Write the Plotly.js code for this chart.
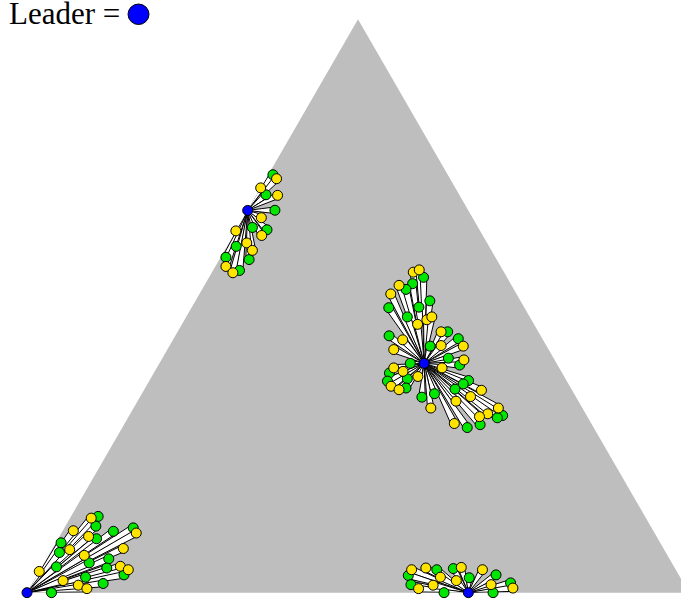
<!DOCTYPE html>
<html>
<head>
<meta charset="utf-8">
<script src="https://cdn.plot.ly/plotly-3.0.1.min.js"></script>
<style>
html, body { margin: 0; padding: 0; overflow: hidden; background: #fff; }
#chart { width: 700px; height: 602px; }
</style>
</head>
<body>
<div id="chart"></div>
<script>
// Ternary compositions in percent (a = top, b = bottom-left, c = bottom-right; b = 100 - a - c)
const leaderA = [66.67, 40.0, 0.0, 0.0];
const leaderC = [0.0, 40.0, 0.0, 66.67];

const cluster1A = [72.9, 72.2, 70.6, 69.4, 69.3, 66.7, 65.4, 63.7, 63.3, 62.3, 63.1, 60.4, 61.0, 59.7, 58.1, 58.5, 56.9, 55.8, 56.2];
const cluster1C = [0.7, 1.6, 0.0, 1.4, 3.2, 4.1, 2.7, 2.2, 4.6, 4.3, 0.0, 1.4, 2.7, 4.2, 4.5, 0.8, 1.6, 3.2, 4.0];
const cluster1Group = ['G','Y','Y','G','Y','G','Y','G','G','Y','Y','G','Y','Y','G','G','Y','Y','G'];

const cluster2A = [55.9, 56.3, 55.0, 53.6, 53.9, 52.9, 52.1, 50.9, 49.7, 49.8, 48.1, 47.6, 48.1, 46.8, 45.5, 45.5, 44.8, 44.1, 44.3, 43.0,
                   43.0, 43.1, 42.4, 40.9, 40.6, 39.7, 40.0, 39.2, 39.2, 38.6, 38.3, 37.3, 37.7, 36.9, 36.0, 35.4, 35.7, 37.0, 36.4, 35.3,
                   35.5, 34.2, 34.1, 34.7, 33.4, 32.2, 32.2, 31.2, 30.9, 30.5, 30.7, 29.3, 29.5, 28.8];
const cluster2C = [30.4, 31.1, 32.4, 29.4, 31.3, 30.8, 28.9, 35.4, 29.8, 34.3, 33.4, 36.6, 37.1, 35.6, 39.8, 40.8, 32.3, 34.7, 43.0, 44.4,
                   39.4, 41.0, 34.2, 43.2, 45.7, 45.5, 37.9, 43.1, 35.8, 37.5, 35.6, 38.8, 40.2, 36.0, 37.0, 38.5, 39.4, 48.2, 47.7, 51.0,
                   46.9, 49.9, 42.6, 44.2, 48.1, 44.9, 55.1, 54.0, 56.4, 55.8, 53.0, 53.8, 49.8, 52.1];
const cluster2Group = ['Y','Y','G','Y','G','G','Y','G','G','G','G','Y','Y','Y','Y','G','G','Y','G','Y',
                       'G','Y','Y','G','Y','G','G','Y','Y','Y','G','G','Y','G','Y','Y','G','G','G','Y',
                       'G','Y','G','G','Y','Y','Y','Y','G','G','Y','G','Y','G'];

const cluster3A = [13.0, 13.3, 11.6, 10.8, 9.8, 9.4, 10.7, 11.3, 10.4, 8.7, 7.5, 7.0, 7.7, 6.5, 5.9, 5.2, 3.7, 4.5, 4.3, 4.6, 4.0, 3.1, 2.7, 2.1, 1.3, 0.7, 1.6, 0.0];
const cluster3C = [3.2, 4.1, 4.6, 1.6, 4.4, 5.8, 7.7, 10.4, 11.3, 0.8, 2.7, 1.4, 10.7, 5.4, 9.4, 6.8, 0.0, 2.2, 9.9, 11.8, 13.3, 13.1, 7.5, 4.4, 7.1, 8.7, 10.7, 3.7];
const cluster3Group = ['Y','G','G','Y','Y','G','G','G','Y','G','Y','G','Y','Y','G','G','Y','G','G','Y','Y','G','G','Y','Y','Y','G','G'];

const cluster4A = [4.0, 3.0, 4.3, 4.0, 2.7, 4.2, 4.4, 2.6, 2.1, 4.0, 3.1, 1.4, 1.4, 0.7, 1.3, 0.0, 0.0, 1.7, 0.8];
const cluster4C = [56.1, 56.1, 58.1, 59.9, 61.1, 62.3, 63.4, 65.5, 63.8, 66.8, 69.3, 69.4, 57.3, 58.8, 60.7, 63.0, 70.4, 72.2, 73.0];
const cluster4Group = ['Y','G','Y','G','Y','G','Y','G','Y','Y','G','Y','G','Y','Y','G','G','G','Y'];

const groupColors = { G: '#00E600', Y: '#FFE400' };
const leaderColor = '#0000FF';
const legendLabel = 'Leader = ';

// ---- build figure ----
const clusters = [
  { A: cluster1A, C: cluster1C, G: cluster1Group },
  { A: cluster2A, C: cluster2C, G: cluster2Group },
  { A: cluster3A, C: cluster3C, G: cluster3Group },
  { A: cluster4A, C: cluster4C, G: cluster4Group }
];

const S3 = Math.sqrt(3);
function toXY(a, c) { return [c + a / 2, a * S3 / 2]; }
function toAC(x, y) { const a = y * 2 / S3; return [a, x - a / 2]; }
const halfWidth = 0.5; // wedge half-width at follower end (ternary units)

const traces = [];
clusters.forEach((cl, k) => {
  const L = toXY(leaderA[k], leaderC[k]);
  for (let i = 0; i < cl.A.length; i++) {
    const F = toXY(cl.A[i], cl.C[i]);
    const dx = F[0] - L[0], dy = F[1] - L[1];
    const len = Math.hypot(dx, dy) || 1;
    const nx = -dy / len * halfWidth, ny = dx / len * halfWidth;
    const pts = [L, [F[0] + nx, F[1] + ny], [F[0] - nx, F[1] - ny], L].map(p => toAC(p[0], p[1]));
    traces.push({
      type: 'scatterternary', mode: 'lines', sum: 100,
      a: pts.map(p => p[0]), c: pts.map(p => p[1]),
      fill: 'toself', fillcolor: '#FFFFFF',
      line: { color: '#000000', width: 1 },
      hoverinfo: 'skip', cliponaxis: false, showlegend: false
    });
  }
});

['G', 'Y'].forEach(g => {
  const a = [], c = [];
  clusters.forEach(cl => cl.G.forEach((gg, i) => { if (gg === g) { a.push(cl.A[i]); c.push(cl.C[i]); } }));
  traces.push({
    type: 'scatterternary', mode: 'markers', sum: 100, a: a, c: c,
    marker: { size: 10, color: groupColors[g], line: { color: '#000000', width: 1 } },
    cliponaxis: false, hoverinfo: 'skip', showlegend: false
  });
});

traces.push({
  type: 'scatterternary', mode: 'markers', sum: 100, a: leaderA, c: leaderC,
  marker: { size: 10, color: leaderColor, line: { color: '#000000', width: 1 } },
  cliponaxis: false, hoverinfo: 'skip', showlegend: false
});

const hiddenAxis = { showline: false, showgrid: false, showticklabels: false, ticks: '', title: { text: '' } };

const layout = {
  width: 700, height: 602,
  margin: { l: 27, r: 11, t: 19, b: 9, pad: 0 },
  paper_bgcolor: '#FFFFFF',
  showlegend: false,
  ternary: {
    sum: 100,
    bgcolor: '#BEBEBE',
    domain: { x: [0, 1], y: [0, 1] },
    aaxis: hiddenAxis, baxis: hiddenAxis, caxis: hiddenAxis
  },
  annotations: [{
    xref: 'paper', yref: 'paper', x: -0.0295, y: 1.0104,
    xanchor: 'left', yanchor: 'middle', showarrow: false,
    text: legendLabel,
    font: { family: 'Liberation Serif, Times New Roman, serif', size: 31, color: '#000000' }
  }],
  shapes: [{
    type: 'circle', xref: 'paper', yref: 'paper',
    x0: 0.1526, x1: 0.1843, y0: 0.9904, y1: 1.0261,
    fillcolor: leaderColor, line: { color: '#000000', width: 1 }
  }]
};

Plotly.newPlot('chart', traces, layout, { staticPlot: true, displayModeBar: false });
</script>
</body>
</html>
